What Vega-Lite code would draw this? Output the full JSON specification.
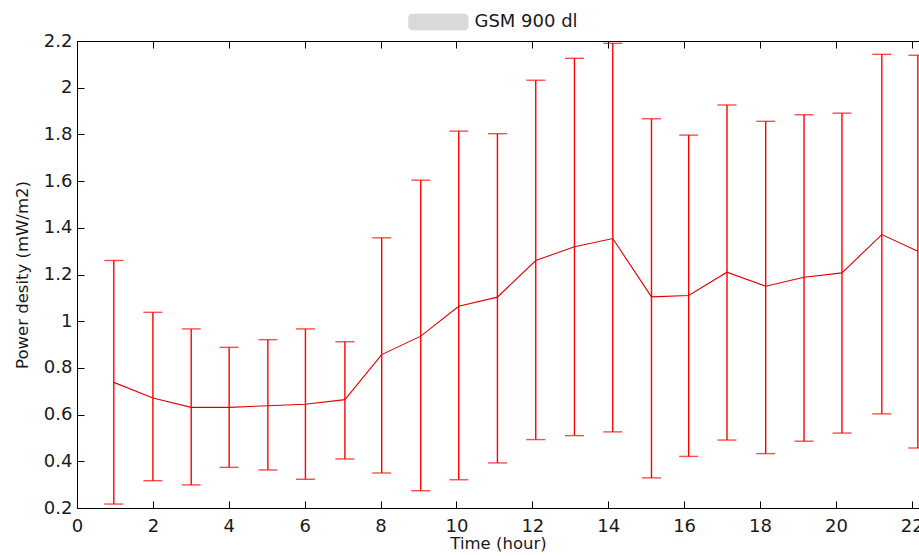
{
  "$schema": "https://vega.github.io/schema/vega-lite/v6.json",
  "width": 842,
  "height": 467,
  "autosize": {"type": "none"},
  "padding": {"left": 77, "top": 41, "right": 0, "bottom": 48},
  "background": "white",
  "config": {"view": {"stroke": null}},
  "title": {"text": "GSM 900 dl", "frame": "group", "anchor": "middle", "dx": 28, "dy": 19, "baseline": "alphabetic", "offset": -12, "font": "DejaVu Sans", "fontSize": 18, "fontWeight": "normal", "color": "#1a1a1a"},
  "data": {"values": [
    {"hour": 0.97, "mean": 0.738, "lower": 0.217, "upper": 1.26},
    {"hour": 2.0, "mean": 0.671, "lower": 0.317, "upper": 1.038},
    {"hour": 3.01, "mean": 0.631, "lower": 0.299, "upper": 0.967},
    {"hour": 4.01, "mean": 0.631, "lower": 0.374, "upper": 0.888},
    {"hour": 5.03, "mean": 0.638, "lower": 0.363, "upper": 0.921},
    {"hour": 6.02, "mean": 0.644, "lower": 0.323, "upper": 0.967},
    {"hour": 7.06, "mean": 0.664, "lower": 0.41, "upper": 0.912},
    {"hour": 8.03, "mean": 0.857, "lower": 0.35, "upper": 1.357},
    {"hour": 9.06, "mean": 0.936, "lower": 0.274, "upper": 1.604},
    {"hour": 10.06, "mean": 1.064, "lower": 0.321, "upper": 1.814},
    {"hour": 11.08, "mean": 1.103, "lower": 0.393, "upper": 1.803},
    {"hour": 12.09, "mean": 1.26, "lower": 0.493, "upper": 2.032},
    {"hour": 13.11, "mean": 1.319, "lower": 0.51, "upper": 2.126},
    {"hour": 14.12, "mean": 1.354, "lower": 0.526, "upper": 2.19},
    {"hour": 15.14, "mean": 1.104, "lower": 0.329, "upper": 1.867},
    {"hour": 16.12, "mean": 1.11, "lower": 0.421, "upper": 1.797},
    {"hour": 17.13, "mean": 1.21, "lower": 0.491, "upper": 1.926},
    {"hour": 18.15, "mean": 1.15, "lower": 0.433, "upper": 1.856},
    {"hour": 19.16, "mean": 1.188, "lower": 0.486, "upper": 1.884},
    {"hour": 20.16, "mean": 1.207, "lower": 0.521, "upper": 1.891},
    {"hour": 21.21, "mean": 1.371, "lower": 0.603, "upper": 2.143},
    {"hour": 22.16, "mean": 1.3, "lower": 0.457, "upper": 2.139}
  ]},
  "layer": [
    {
      "data": {"values": [{"x1": 8.73, "x2": 10.32, "y1": 2.246, "y2": 2.317}]},
      "mark": {"type": "rect", "color": "#d9d9d9", "cornerRadius": 4, "clip": false},
      "encoding": {
        "x": {"field": "x1", "type": "quantitative", "axis": null},
        "x2": {"field": "x2"},
        "y": {"field": "y1", "type": "quantitative", "axis": null},
        "y2": {"field": "y2"}
      }
    },
    {
      "mark": {"type": "rule", "color": "#ff0000", "strokeWidth": 1.4, "clip": true},
      "encoding": {
        "x": {"field": "hour", "type": "quantitative",
          "scale": {"domain": [0, 22.19], "nice": false, "zero": false},
          "axis": {"orient": "bottom", "values": [0, 2, 4, 6, 8, 10, 12, 14, 16, 18, 20, 22], "tickSize": -7, "labelPadding": 16, "grid": false, "domainColor": "#000", "tickColor": "#000", "labelColor": "#1a1a1a", "labelFont": "DejaVu Sans", "labelFontSize": 18, "labelFlush": false, "labelOverlap": false, "title": "Time (hour)", "titleFont": "DejaVu Sans", "titleFontSize": 16.5, "titleFontWeight": "normal", "titleColor": "#1a1a1a", "titleBaseline": "alphabetic", "titleY": 40}},
        "y": {"field": "lower", "type": "quantitative",
          "scale": {"domain": [0.2, 2.2], "nice": false, "zero": false},
          "axis": {"orient": "left", "values": [0.2, 0.4, 0.6, 0.8, 1, 1.2, 1.4, 1.6, 1.8, 2, 2.2], "format": ".1~f", "tickSize": -7, "labelPadding": 12, "grid": false, "domainColor": "#000", "tickColor": "#000", "labelColor": "#1a1a1a", "labelFont": "DejaVu Sans", "labelFontSize": 18, "labelFlush": false, "labelOverlap": false, "title": "Power desity (mW/m2)", "titleFont": "DejaVu Sans", "titleFontSize": 16.5, "titleFontWeight": "normal", "titleColor": "#1a1a1a", "titleBaseline": "alphabetic", "titleX": -50}},
        "y2": {"field": "upper"}
      }
    },
    {
      "mark": {"type": "tick", "orient": "horizontal", "color": "#ff0000", "size": 19, "thickness": 1.4, "clip": true},
      "encoding": {
        "x": {"field": "hour", "type": "quantitative",
          "axis": {"orient": "top", "values": [0, 2, 4, 6, 8, 10, 12, 14, 16, 18, 20, 22], "tickSize": -7, "labels": false, "grid": false, "domainColor": "#000", "tickColor": "#000", "title": null}},
        "y": {"field": "lower", "type": "quantitative", "axis": null}
      }
    },
    {
      "mark": {"type": "tick", "orient": "horizontal", "color": "#ff0000", "size": 19, "thickness": 1.4, "clip": true},
      "encoding": {
        "x": {"field": "hour", "type": "quantitative", "axis": null},
        "y": {"field": "upper", "type": "quantitative", "axis": null}
      }
    },
    {
      "mark": {"type": "line", "color": "#e00000", "strokeWidth": 1.1, "clip": true},
      "encoding": {
        "x": {"field": "hour", "type": "quantitative", "axis": null},
        "y": {"field": "mean", "type": "quantitative", "axis": null}
      }
    }
  ],
  "resolve": {"axis": {"x": "independent", "y": "independent"}}
}
